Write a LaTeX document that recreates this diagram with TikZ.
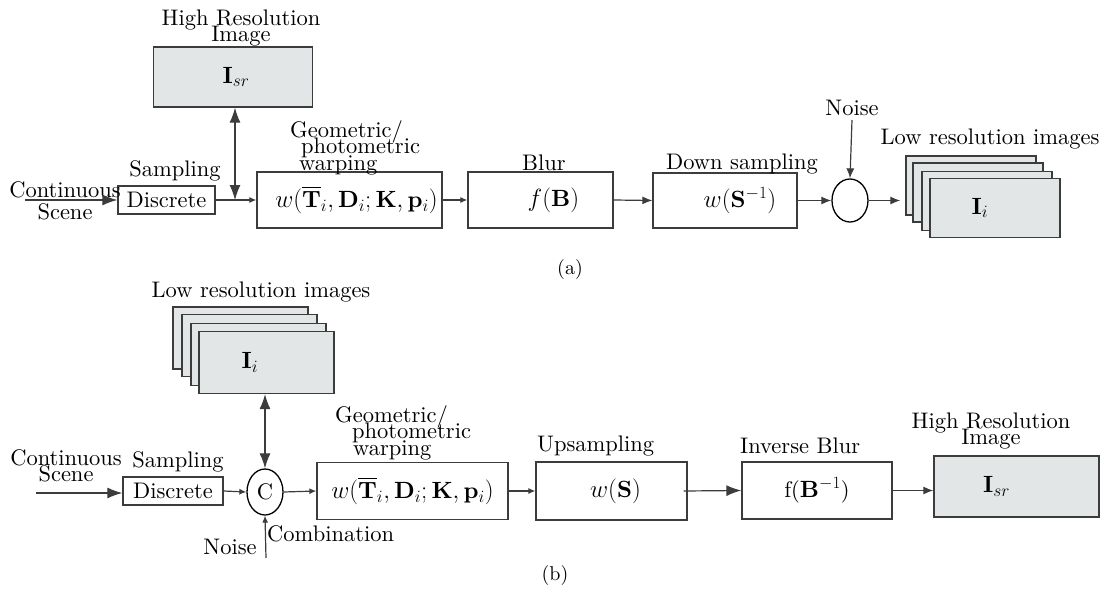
\documentclass[tikz,border=0pt]{standalone}
\usepackage{amsmath}
\usepackage{fontspec}
\setmainfont{lmroman10-regular.otf}[BoldFont=lmroman10-bold.otf,ItalicFont=lmroman10-italic.otf]
\DeclareMathSizes{22.5}{23.5}{17.5}{12}
\usetikzlibrary{arrows.meta,shapes.geometric}
\definecolor{boxgray}{RGB}{227,230,230}
\definecolor{linegray}{RGB}{60,60,60}
\begin{document}
\begin{tikzpicture}[x=1pt,y=-1pt,
  font={\fontsize{22.5}{16.5}\selectfont\lineskiplimit=-20pt},
  blk/.style={draw=linegray,line width=1.3pt,rectangle,inner sep=0pt},
  img/.style={blk,fill=boxgray,minimum width=130pt,minimum height=59pt},
  lbl/.style={inner sep=0pt,align=center},
  circ/.style={draw=black,line width=1.3pt,ellipse,inner sep=0pt},
  con/.style={line width=1.2pt,draw=linegray},
  sarr/.style={con,-{Latex[length=7pt,width=6pt]}},
  marr/.style={con,-{Latex[length=10pt,width=8pt]}},
  barr/.style={con,-{Latex[length=15pt,width=11pt]}},
  dbarr/.style={con,{Latex[length=15pt,width=11pt]}-{Latex[length=15pt,width=11pt]}}]
\useasboundingbox (0,0) rectangle (1104,597);

% ---------------- (a) ----------------
\node[blk,fill=boxgray,minimum width=159pt,minimum height=60pt] (hrA) at (233,77) {\hspace*{6pt}$\mathbf{I}_{sr}$};
\node[lbl] (hrAt) at (241,28) {High Resolution\\Image};
\node[blk,minimum width=97pt,minimum height=28pt] (discA) at (166.5,200) {Discrete};
\node[lbl] (sampA) at (175,171) {Sampling};
\node[lbl,font={\fontsize{22.5}{22}\selectfont}] (contA) at (65,201) {Continuous\\Scene};
\coordinate (inA) at (25,200);
\node[blk,minimum width=185pt,minimum height=56pt] (warpA) at (349.5,200) {\hspace*{14pt}$w(\overline{\mathbf{T}}_i,\mathbf{D}_i;\mathbf{K},\mathbf{p}_i)$};
\node[lbl,align=left,anchor=north west] (geoA) at (290,120) {Geometric/\\\hspace*{11pt}photometric\\\hspace*{9pt}warping};
\node[blk,minimum width=145pt,minimum height=56pt] (blurA) at (540.5,200) {\hspace*{26pt}$f(\mathbf{B})$};
\node[lbl] (blurAt) at (544,163) {Blur};
\node[blk,minimum width=144pt,minimum height=55pt] (downA) at (725,200.5) {\hspace*{30pt}$w(\mathbf{S}^{-1})$};
\node[lbl] (downAt) at (742,164) {Down sampling};
\node[circ,minimum width=36pt,minimum height=43pt] (circA) at (850,200.5) {};
\node[lbl] (noiseA) at (852,108) {Noise};
\node[img] (sa1) at (971,185.5) {};
\node[img] (sa2) at (978,192.5) {};
\node[img] (sa3) at (987,201) {};
\node[img] (sa4) at (995,208) {$\mathbf{I}_i$\hspace*{30pt}};
\node[lbl] (lowA) at (990,139) {Low resolution images};
\coordinate (jA) at (235,200);

\draw[barr] (inA) -- (discA.west);
\draw[sarr] (discA.east) -- (warpA.west);
\draw[dbarr] (jA |- hrA.south) -- (jA);
\draw[sarr] (warpA.east) -- (blurA.west);
\draw[marr] (blurA.east) -- (downA.west);
\draw[marr] (downA.east) -- (circA.west);
\draw[marr] (circA.east) -- ([xshift=-5pt]sa1.west |- circA.east);
\draw[marr] (noiseA.south) ++(0,4) -- (circA.north);

\node[font=\fontsize{20}{20}\selectfont,inner sep=0pt] (capA) at (570,269) {(a)};

% ---------------- (b) ----------------
\node[img,minimum width=135pt,minimum height=62pt] (sb1) at (240.5,338) {};
\node[img,minimum width=135pt,minimum height=62pt] (sb2) at (249.5,345.5) {};
\node[img,minimum width=135pt,minimum height=62pt] (sb3) at (258.5,354.5) {};
\node[img,minimum width=135pt,minimum height=62pt] (sb4) at (266.5,362.5) {$\mathbf{I}_i$\hspace*{33pt}};
\node[lbl] (lowB) at (261,292) {Low resolution images};
\node[lbl] (contB) at (66,466) {Continuous\\Scene};
\coordinate (inB) at (36,493);
\node[blk,minimum width=100pt,minimum height=28pt] (discB) at (173,491) {Discrete};
\node[lbl] (sampB) at (178,462) {Sampling};
\node[circ,minimum width=36pt,minimum height=46pt] (cB) at (265,492) {C};
\node[lbl] (noiseB) at (230,547) {Noise};
\node[lbl,anchor=west] (combB) at (267,534) {Combination};
\coordinate (nB) at (266,558);
\node[blk,minimum width=191pt,minimum height=57pt] (warpB) at (412.5,491) {$w(\overline{\mathbf{T}}_i,\mathbf{D}_i;\mathbf{K},\mathbf{p}_i)$};
\node[lbl,align=left,anchor=north west] (geoB) at (335,405) {Geometric/\\\hspace*{17pt}photometric\\\hspace*{18pt}warping};
\node[blk,minimum width=151pt,minimum height=58pt] (upB) at (611.5,491) {\hspace*{8pt}$w(\mathbf{S})$};
\node[lbl,anchor=west] (upBt) at (537,446) {Upsampling};
\node[blk,minimum width=150pt,minimum height=57pt] (invB) at (817,490.5) {f($\mathbf{B}^{-1}$)};
\node[lbl,anchor=west] (invBt) at (740,446) {Inverse Blur};
\node[blk,fill=boxgray,minimum width=165pt,minimum height=61pt] (hrB) at (1016.5,486.5) {$\mathbf{I}_{sr}$\hspace*{40pt}};
\node[lbl] (hrBt) at (991,431) {High Resolution\\Image};

\draw[barr] (inB) -- (inB -| discB.west);
\draw[sarr] (discB.east) -- (cB.west);
\draw[dbarr] (sb4.south -| cB.north) -- (cB.north);
\draw[sarr] (nB) -- (cB.south);
\draw[sarr] (cB.east) -- (warpB.west);
\draw[sarr] (warpB.east) -- (upB.west);
\draw[barr] ([xshift=-4pt]upB.east) -- (invB.west);
\draw[marr] (invB.east) -- (invB.east -| hrB.west);

\node[font=\fontsize{20}{20}\selectfont,inner sep=0pt] (capB) at (555,575) {(b)};
\end{tikzpicture}
\end{document}
